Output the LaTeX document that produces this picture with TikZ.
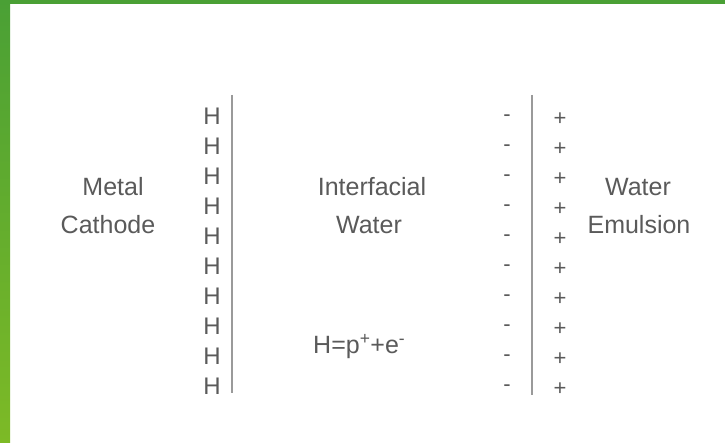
\documentclass[tikz,border=0pt]{standalone}
\usepackage{fontspec}
\setmainfont{Liberation Sans}
\definecolor{txt}{HTML}{5A5A5A}
\definecolor{lin}{HTML}{9A9A9A}
\definecolor{gtop}{HTML}{4AA035}
\definecolor{gbot}{HTML}{7DBA26}
\begin{document}
\begin{tikzpicture}[x=1pt,y=1pt,
  lab/.style={text=txt,font=\fontsize{25}{30}\selectfont,inner sep=0pt,anchor=base},
  sym/.style={text=txt,font=\fontsize{22}{26}\selectfont,inner sep=0pt},
  hsym/.style={text=txt,font=\fontsize{24}{28}\selectfont,inner sep=0pt},
  wall/.style={draw=lin,line width=2pt}]
\useasboundingbox (0,0) rectangle (725,443);
\fill[white] (0,0) rectangle (725,443);
% green frame
\fill[gtop] (0,439) rectangle (725,443);
\shade[top color=gtop,bottom color=gbot] (0,0) rectangle (10,443);
% walls
\coordinate (l1) at (232,348); \coordinate (l2) at (232,50);
\coordinate (r1) at (532,348); \coordinate (r2) at (532,48);
\draw[wall] (l1) -- (l2);
\draw[wall] (r1) -- (r2);
% columns
\foreach \i in {0,...,9}{
  \node[hsym] (h\i) at (212,{443-116-30*\i}) {H};
  \node[sym] (m\i) at (507,{443-118-30*\i}) {-};
  \node[sym] (p\i) at (560,{443-119-30*\i}) {+};
}
% labels
\node[lab] (metal) at (113,247) {Metal};
\node[lab] (cath) at (108,209) {Cathode};
\node[lab] (inter) at (372,247) {Interfacial};
\node[lab] (water) at (369,209) {Water};
\node[lab] (water2) at (638,247) {Water};
\node[lab] (emul) at (639,209) {Emulsion};
\node[lab,anchor=base west] (eq) at (313,89) {H=p\textsuperscript{+}+e\textsuperscript{-}};
\end{tikzpicture}
\end{document}
